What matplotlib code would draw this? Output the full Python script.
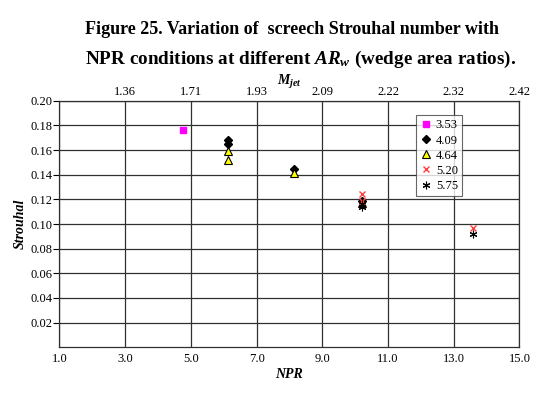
import matplotlib
matplotlib.use("Agg")
import matplotlib.pyplot as plt

plt.rcParams["font.family"] = ["Liberation Serif", "DejaVu Serif"]
plt.rcParams["mathtext.fontset"] = "custom"
plt.rcParams["mathtext.rm"] = "Liberation Serif:bold"
plt.rcParams["mathtext.it"] = "Liberation Serif:italic:bold"
plt.rcParams["mathtext.bf"] = "Liberation Serif:bold"

# data (NPR, Strouhal) per wedge area ratio
npr_353 = [4.75]
st_353 = [0.176]
npr_409 = [6.14, 6.14, 8.15, 10.2]
st_409 = [0.168, 0.165, 0.145, 0.119]
npr_464 = [6.14, 6.14, 8.15, 10.2]
st_464 = [0.159, 0.152, 0.141, 0.117]
npr_520 = [10.2, 10.2, 13.6]
st_520 = [0.124, 0.119, 0.097]
npr_575 = [10.2, 10.2, 13.6]
st_575 = [0.114, 0.116, 0.092]

npr_ticks = [1, 3, 5, 7, 9, 11, 13, 15]
mjet_ticks = [3, 5, 7, 9, 11, 13, 15]
mjet_labels = ["1.36", "1.71", "1.93", "2.09", "2.22", "2.32", "2.42"]
st_ticks = [0.02, 0.04, 0.06, 0.08, 0.10, 0.12, 0.14, 0.16, 0.18, 0.20]

fig = plt.figure(figsize=(5.54, 3.94), dpi=100)
ax = fig.add_axes([0.1074, 0.1185, 0.8303, 0.6259])

ax.plot(npr_353, st_353, ls="none", marker="s", ms=5, mfc="#ff00ff", mec="#ff00ff", label="3.53")
ax.plot(npr_409, st_409, ls="none", marker="D", ms=4.2, mfc="black", mec="black", label="4.09")
ax.plot(npr_464, st_464, ls="none", marker="^", ms=5.5, mfc="#ffff00", mec="black", mew=0.8, label="4.64")
ax.plot(npr_520, st_520, ls="none", marker="x", ms=5, mec="#ff4040", mew=1.0, label="5.20")
ax.plot(npr_575, st_575, ls="none", marker=(6, 2, 0), ms=5.5, mec="black", mew=0.8, label="5.75")

ax.set_xlim(1, 15)
ax.set_ylim(0, 0.20)
ax.set_xticks(npr_ticks)
ax.set_xticklabels([f"{v:.1f}" for v in npr_ticks])
ax.set_yticks(st_ticks)
ax.set_yticklabels([f"{v:.2f}" for v in st_ticks])
ax.grid(True, color="#303030", lw=0.9)
ax.set_axisbelow(True)
ax.tick_params(axis="x", length=0, labelsize=9, pad=4)
ax.tick_params(axis="y", length=4, width=0.8, labelsize=9, pad=1)
for s in ax.spines.values():
    s.set_color("#303030")
    s.set_linewidth(0.9)

ax.set_xlabel("NPR", fontsize=10, fontweight="bold", fontstyle="italic", labelpad=2)
ax.set_ylabel("Strouhal", fontsize=10, fontweight="bold", fontstyle="italic", labelpad=3)

top = ax.twiny()
top.set_xlim(ax.get_xlim())
top.set_xticks(mjet_ticks)
top.set_xticklabels(mjet_labels)
top.tick_params(axis="x", length=0, labelsize=9, pad=2)
for s in top.spines.values():
    s.set_visible(False)
fig.text(0.522, 0.792, r"$M_{jet}$", fontsize=10, ha="center", va="center")

leg = ax.legend(loc="upper left", bbox_to_anchor=(0.776, 0.942), fontsize=9,
                frameon=True, fancybox=False, handlelength=0.8, handletextpad=0.4,
                borderpad=0.35, labelspacing=0.25, borderaxespad=0)
leg.get_frame().set_edgecolor("#404040")
leg.get_frame().set_linewidth(0.8)

fig.text(0.527, 0.926, "Figure 25. Variation of  screech Strouhal number with",
         ha="center", va="center", fontsize=13, fontweight="bold")
fig.text(0.543, 0.848, r"NPR conditions at different $AR_{w}$ (wedge area ratios).",
         ha="center", va="center", fontsize=13.8, fontweight="bold")

fig.savefig("out.png", dpi=100)
